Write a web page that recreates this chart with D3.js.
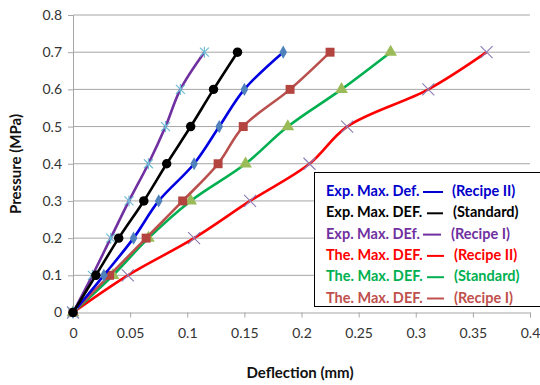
<!DOCTYPE html>
<html>
<head>
<meta charset="utf-8">
<script src="https://cdn.jsdelivr.net/npm/d3@7/dist/d3.min.js"></script>
<style>
  html, body { margin: 0; padding: 0; background: #fff; }
  svg { display: block; font-family: Lato, "Open Sans", sans-serif; }
</style>
</head>
<body>
<svg id="chart" width="540" height="385"></svg>
<script>
// Pressure levels (MPa) shared by every series
const pressure = [0, 0.1, 0.2, 0.3, 0.4, 0.5, 0.6, 0.7];

// Deflection (mm) at each pressure level
const expRecipeII = [0, 0.027, 0.053, 0.075, 0.106, 0.128, 0.150, 0.184];
const expStandard = [0, 0.020, 0.040, 0.062, 0.082, 0.103, 0.123, 0.144];
const expRecipeI  = [0, 0.017, 0.033, 0.049, 0.066, 0.081, 0.094, 0.115];
const theRecipeII = [0, 0.048, 0.106, 0.155, 0.207, 0.240, 0.311, 0.362];
const theStandard = [0, 0.035, 0.066, 0.103, 0.151, 0.188, 0.235, 0.278];
const theRecipeI  = [0, 0.032, 0.064, 0.096, 0.127, 0.149, 0.190, 0.225];

// Axis ticks
const xTicks = [0, 0.05, 0.1, 0.15, 0.2, 0.25, 0.3, 0.35, 0.4];
const yTicks = [0, 0.1, 0.2, 0.3, 0.4, 0.5, 0.6, 0.7, 0.8];

// Legend entries
const legendLeft  = ["Exp. Max. Def.", "Exp. Max. DEF.", "Exp. Max. DEf.", "The. Max. DEF.", "The. Max. DEF.", "The. Max. DEF."];
const legendRight = ["(Recipe II)", "(Standard)", "(Recipe I)", "(Recipe II)", "(Standard)", "(Recipe I)"];

const svg = d3.select("#chart");
const x = d3.scaleLinear().domain([0, 0.4]).range([73, 530]);
const y = d3.scaleLinear().domain([0, 0.8]).range([312.5, 15]);

// Horizontal gridlines
svg.append("g")
  .selectAll("line")
  .data(yTicks.slice(1))
  .join("line")
  .attr("x1", x(0)).attr("x2", x(0.4))
  .attr("y1", d => y(d)).attr("y2", d => y(d))
  .attr("stroke", "#a6a6a6").attr("stroke-width", 1);

// Y axis
const yAxis = svg.append("g")
  .attr("transform", `translate(${x(0)},0)`)
  .call(d3.axisLeft(y).tickValues(yTicks).tickSize(5).tickPadding(6)
    .tickFormat(d => d === 0 ? "0" : d3.format(".1f")(d)));
yAxis.select(".domain").attr("stroke", "#a6a6a6");
yAxis.selectAll(".tick line").attr("stroke", "#a6a6a6");
yAxis.selectAll("text").attr("font-size", 14).attr("fill", "#333")
  .attr("font-family", "Lato, sans-serif");

// X axis
const xAxis = svg.append("g")
  .attr("transform", `translate(0,${y(0)})`)
  .call(d3.axisBottom(x).tickValues(xTicks).tickSize(5).tickPadding(11)
    .tickFormat(d => d === 0 ? "0" : String(+d.toFixed(2))));
xAxis.select(".domain").attr("stroke", "#a6a6a6");
xAxis.selectAll(".tick line").attr("stroke", "#a6a6a6");
xAxis.selectAll("text").attr("font-size", 14).attr("fill", "#333")
  .attr("font-family", "Lato, sans-serif");

// Axis titles
svg.append("text")
  .attr("x", 300).attr("y", 378)
  .attr("text-anchor", "middle")
  .attr("font-size", 15).attr("font-weight", "bold").attr("fill", "#111")
  .text("Deflection (mm)");
svg.append("text")
  .attr("transform", "translate(21,164) rotate(-90)")
  .attr("text-anchor", "middle")
  .attr("font-size", 15).attr("font-weight", "bold").attr("fill", "#111")
  .text("Pressure (MPa)");

// Series definitions (draw order: theoretical first, experimental on top)
const series = [
  { values: theRecipeII, line: "#ff0000", marker: "cross",    mcolor: "#8b7bb5", size: 130 },
  { values: theStandard, line: "#00b050", marker: "triangle", mcolor: "#9bbb59", size: 70 },
  { values: theRecipeI,  line: "#b9504d", marker: "square",   mcolor: "#b3443f", size: 80 },
  { values: expRecipeII, line: "#0000e0", marker: "diamond",  mcolor: "#4f81bd", size: 50 },
  { values: expRecipeI,  line: "#7030a0", marker: "star",     mcolor: "#6fbcd6", size: 0 },
  { values: expStandard, line: "#000000", marker: "circle",   mcolor: "#000000", size: 70 }
];

const lineGen = d3.line()
  .x(d => x(d[0])).y(d => y(d[1]))
  .curve(d3.curveCatmullRom.alpha(0.5));

series.forEach(s => {
  const pts = s.values.map((v, i) => [v, pressure[i]]);
  svg.append("path")
    .datum(pts)
    .attr("d", lineGen)
    .attr("fill", "none")
    .attr("stroke", s.line)
    .attr("stroke-width", 2.6);

  const g = svg.append("g");
  pts.forEach(p => {
    const cx = x(p[0]), cy = y(p[1]);
    if (s.marker === "cross") {
      const r = 6;
      g.append("path")
        .attr("d", `M${cx - r},${cy - r}L${cx + r},${cy + r}M${cx - r},${cy + r}L${cx + r},${cy - r}`)
        .attr("stroke", s.mcolor).attr("stroke-width", 1.1).attr("fill", "none");
    } else if (s.marker === "star") {
      const r = 4.5;
      g.append("path")
        .attr("d", `M${cx - r},${cy - r}L${cx + r},${cy + r}M${cx - r},${cy + r}L${cx + r},${cy - r}M${cx},${cy - r - 1}L${cx},${cy + r + 1}`)
        .attr("stroke", s.mcolor).attr("stroke-width", 1.2).attr("fill", "none");
    } else {
      const typeMap = {
        triangle: d3.symbolTriangle,
        square: d3.symbolSquare,
        diamond: d3.symbolDiamond,
        circle: d3.symbolCircle
      };
      g.append("path")
        .attr("transform", `translate(${cx},${cy})`)
        .attr("d", d3.symbol().type(typeMap[s.marker]).size(s.size)())
        .attr("fill", s.mcolor);
    }
  });
});

// Legend box (runs past the right edge)
const legendColors = ["#0000cc", "#000000", "#7030a0", "#ff0000", "#00b050", "#c0504d"];
const dashX = [[423, 443], [427, 443], [423, 441], [427, 444], [427, 444], [427, 444]];
const rightX = [452, 453, 451, 454, 454, 454];

svg.append("rect")
  .attr("x", 314.5).attr("y", 172.5)
  .attr("width", 240).attr("height", 134)
  .attr("fill", "#fff").attr("stroke", "#000").attr("stroke-width", 1);

const legend = svg.append("g").attr("font-size", 14.5).attr("font-weight", "bold");
legendLeft.forEach((t, i) => {
  const cy = 191 + i * 21.3;
  legend.append("text")
    .attr("x", 326).attr("y", cy + 5)
    .attr("fill", legendColors[i])
    .text(t);
  legend.append("line")
    .attr("x1", dashX[i][0]).attr("x2", dashX[i][1])
    .attr("y1", cy + 1).attr("y2", cy + 1)
    .attr("stroke", legendColors[i]).attr("stroke-width", 2);
  legend.append("text")
    .attr("x", rightX[i]).attr("y", cy + 5)
    .attr("fill", legendColors[i])
    .text(legendRight[i]);
});
</script>
</body>
</html>
